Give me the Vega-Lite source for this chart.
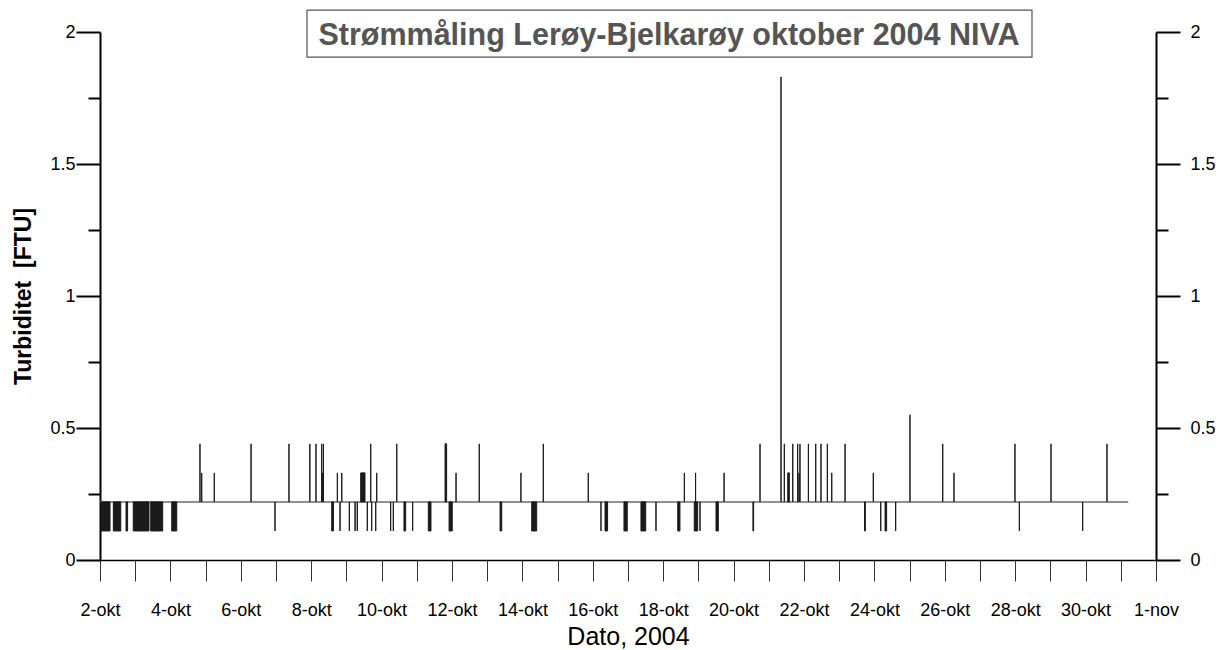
{
  "$schema": "https://vega.github.io/schema/vega-lite/v6.json",
  "width": 1056,
  "height": 528,
  "autosize": {"type": "none"},
  "padding": {"left": 100, "top": 32, "right": 65, "bottom": 90},
  "background": "white",
  "title": {
    "text": "Strømmåling Lerøy-Bjelkarøy oktober 2004 NIVA",
    "font": "Liberation Sans",
    "fontSize": 30.5,
    "fontWeight": "bold",
    "color": "#555555",
    "anchor": "middle",
    "dx": 41,
    "dy": 42,
    "offset": 0
  },
  "config": {
    "view": {"stroke": null},
    "axis": {
      "labelFont": "Liberation Sans",
      "titleFont": "Liberation Sans",
      "labelColor": "black",
      "titleColor": "black",
      "grid": false
    }
  },
  "datasets": {
    "baseline": [
      {"start": "2004-10-02T00:00", "end": "2004-10-31T05:05", "level": 0.22}
    ],
    "spikes": [
      {"start": "2004-10-02T00:40", "end": "2004-10-02T06:50", "value": 0.11},
      {"start": "2004-10-02T09:05", "end": "2004-10-02T14:10", "value": 0.11},
      {"start": "2004-10-02T17:45", "end": "2004-10-02T18:50", "value": 0.11},
      {"start": "2004-10-02T22:40", "end": "2004-10-03T09:25", "value": 0.11},
      {"start": "2004-10-03T10:35", "end": "2004-10-03T18:45", "value": 0.11},
      {"start": "2004-10-04T00:55", "end": "2004-10-04T04:20", "value": 0.11},
      {"start": "2004-10-04T20:10", "end": "2004-10-04T20:10", "value": 0.44},
      {"start": "2004-10-04T21:20", "end": "2004-10-04T21:20", "value": 0.33},
      {"start": "2004-10-05T05:55", "end": "2004-10-05T05:55", "value": 0.33},
      {"start": "2004-10-06T07:00", "end": "2004-10-06T07:00", "value": 0.44},
      {"start": "2004-10-06T23:20", "end": "2004-10-06T23:20", "value": 0.11},
      {"start": "2004-10-07T08:50", "end": "2004-10-07T08:50", "value": 0.44},
      {"start": "2004-10-07T23:05", "end": "2004-10-07T23:05", "value": 0.44},
      {"start": "2004-10-08T03:15", "end": "2004-10-08T03:15", "value": 0.44},
      {"start": "2004-10-08T07:10", "end": "2004-10-08T07:10", "value": 0.44},
      {"start": "2004-10-08T07:50", "end": "2004-10-08T07:50", "value": 0.33},
      {"start": "2004-10-08T08:20", "end": "2004-10-08T08:20", "value": 0.44},
      {"start": "2004-10-08T14:00", "end": "2004-10-08T15:10", "value": 0.11},
      {"start": "2004-10-08T17:50", "end": "2004-10-08T17:50", "value": 0.33},
      {"start": "2004-10-08T19:40", "end": "2004-10-08T19:40", "value": 0.11},
      {"start": "2004-10-08T20:50", "end": "2004-10-08T20:50", "value": 0.33},
      {"start": "2004-10-09T02:00", "end": "2004-10-09T02:00", "value": 0.11},
      {"start": "2004-10-09T05:55", "end": "2004-10-09T05:55", "value": 0.11},
      {"start": "2004-10-09T07:25", "end": "2004-10-09T07:25", "value": 0.11},
      {"start": "2004-10-09T09:45", "end": "2004-10-09T12:40", "value": 0.33},
      {"start": "2004-10-09T14:15", "end": "2004-10-09T14:15", "value": 0.11},
      {"start": "2004-10-09T16:35", "end": "2004-10-09T16:35", "value": 0.44},
      {"start": "2004-10-09T17:15", "end": "2004-10-09T17:15", "value": 0.11},
      {"start": "2004-10-09T20:00", "end": "2004-10-09T20:00", "value": 0.11},
      {"start": "2004-10-09T20:40", "end": "2004-10-09T20:40", "value": 0.33},
      {"start": "2004-10-10T06:10", "end": "2004-10-10T06:10", "value": 0.11},
      {"start": "2004-10-10T08:00", "end": "2004-10-10T08:00", "value": 0.11},
      {"start": "2004-10-10T10:20", "end": "2004-10-10T10:20", "value": 0.44},
      {"start": "2004-10-10T15:15", "end": "2004-10-10T16:25", "value": 0.11},
      {"start": "2004-10-10T21:10", "end": "2004-10-10T21:10", "value": 0.11},
      {"start": "2004-10-11T07:50", "end": "2004-10-11T09:40", "value": 0.11},
      {"start": "2004-10-11T19:15", "end": "2004-10-11T20:20", "value": 0.44},
      {"start": "2004-10-11T22:00", "end": "2004-10-12T00:10", "value": 0.11},
      {"start": "2004-10-12T02:45", "end": "2004-10-12T02:45", "value": 0.33},
      {"start": "2004-10-12T18:35", "end": "2004-10-12T18:35", "value": 0.44},
      {"start": "2004-10-13T08:45", "end": "2004-10-13T09:55", "value": 0.11},
      {"start": "2004-10-13T23:00", "end": "2004-10-13T23:00", "value": 0.33},
      {"start": "2004-10-14T06:20", "end": "2004-10-14T09:45", "value": 0.11},
      {"start": "2004-10-14T14:15", "end": "2004-10-14T14:15", "value": 0.44},
      {"start": "2004-10-15T20:55", "end": "2004-10-15T20:55", "value": 0.33},
      {"start": "2004-10-16T05:35", "end": "2004-10-16T05:35", "value": 0.11},
      {"start": "2004-10-16T08:20", "end": "2004-10-16T10:05", "value": 0.11},
      {"start": "2004-10-16T21:15", "end": "2004-10-16T23:30", "value": 0.11},
      {"start": "2004-10-17T08:50", "end": "2004-10-17T12:05", "value": 0.11},
      {"start": "2004-10-17T19:05", "end": "2004-10-17T19:05", "value": 0.11},
      {"start": "2004-10-18T09:55", "end": "2004-10-18T11:25", "value": 0.11},
      {"start": "2004-10-18T14:25", "end": "2004-10-18T14:25", "value": 0.33},
      {"start": "2004-10-18T21:10", "end": "2004-10-18T23:30", "value": 0.11},
      {"start": "2004-10-18T22:05", "end": "2004-10-18T22:05", "value": 0.33},
      {"start": "2004-10-19T01:05", "end": "2004-10-19T01:05", "value": 0.11},
      {"start": "2004-10-19T12:00", "end": "2004-10-19T13:35", "value": 0.11},
      {"start": "2004-10-19T17:30", "end": "2004-10-19T17:30", "value": 0.33},
      {"start": "2004-10-20T13:10", "end": "2004-10-20T13:40", "value": 0.11},
      {"start": "2004-10-20T18:00", "end": "2004-10-20T18:00", "value": 0.44},
      {"start": "2004-10-21T08:20", "end": "2004-10-21T08:20", "value": 1.83},
      {"start": "2004-10-21T10:35", "end": "2004-10-21T10:35", "value": 0.44},
      {"start": "2004-10-21T12:55", "end": "2004-10-21T14:00", "value": 0.33},
      {"start": "2004-10-21T16:20", "end": "2004-10-21T16:20", "value": 0.44},
      {"start": "2004-10-21T19:40", "end": "2004-10-21T19:40", "value": 0.44},
      {"start": "2004-10-21T20:35", "end": "2004-10-21T20:35", "value": 0.33},
      {"start": "2004-10-21T21:15", "end": "2004-10-21T21:15", "value": 0.44},
      {"start": "2004-10-22T03:00", "end": "2004-10-22T03:00", "value": 0.44},
      {"start": "2004-10-22T08:00", "end": "2004-10-22T08:00", "value": 0.44},
      {"start": "2004-10-22T11:35", "end": "2004-10-22T11:35", "value": 0.44},
      {"start": "2004-10-22T15:55", "end": "2004-10-22T15:55", "value": 0.44},
      {"start": "2004-10-22T18:55", "end": "2004-10-22T18:55", "value": 0.33},
      {"start": "2004-10-23T04:00", "end": "2004-10-23T04:00", "value": 0.44},
      {"start": "2004-10-23T17:15", "end": "2004-10-23T17:50", "value": 0.11},
      {"start": "2004-10-23T23:15", "end": "2004-10-23T23:15", "value": 0.33},
      {"start": "2004-10-24T04:20", "end": "2004-10-24T04:20", "value": 0.11},
      {"start": "2004-10-24T07:15", "end": "2004-10-24T08:20", "value": 0.11},
      {"start": "2004-10-24T14:30", "end": "2004-10-24T14:30", "value": 0.11},
      {"start": "2004-10-25T00:15", "end": "2004-10-25T00:15", "value": 0.55},
      {"start": "2004-10-25T22:35", "end": "2004-10-25T22:35", "value": 0.44},
      {"start": "2004-10-26T06:15", "end": "2004-10-26T06:15", "value": 0.33},
      {"start": "2004-10-27T23:50", "end": "2004-10-27T23:50", "value": 0.44},
      {"start": "2004-10-28T02:50", "end": "2004-10-28T02:50", "value": 0.11},
      {"start": "2004-10-29T00:25", "end": "2004-10-29T00:25", "value": 0.44},
      {"start": "2004-10-29T22:00", "end": "2004-10-29T22:00", "value": 0.11},
      {"start": "2004-10-30T14:35", "end": "2004-10-30T14:35", "value": 0.44}
    ]
  },
  "resolve": {"axis": {"y": "independent"}},
  "layer": [
    {
      "data": {"name": "baseline"},
      "mark": {"type": "rule", "color": "#6b6b6b", "strokeWidth": 1.5},
      "encoding": {
        "x": {
          "field": "start",
          "type": "temporal",
          "title": "Dato, 2004",
          "scale": {"domain": [{"year": 2004, "month": 10, "date": 2}, {"year": 2004, "month": 11, "date": 1}]},
          "axis": {
            "tickCount": {"interval": "day", "step": 1},
            "labelExpr": "month(datum.value) == 9 ? (date(datum.value) % 2 == 0 ? date(datum.value) + '-okt' : '') : date(datum.value) + '-nov'",
            "labelOverlap": false,
            "labelFlush": false,
            "labelFontSize": 18,
            "labelPadding": 20,
            "tickSize": 21,
            "tickColor": "#333333",
            "tickWidth": 1,
            "domainColor": "black",
            "domainWidth": 1.5,
            "titleFontSize": 25,
            "titleFontWeight": "normal",
            "titlePadding": 5
          }
        },
        "x2": {"field": "end"},
        "y": {
          "field": "level",
          "type": "quantitative",
          "title": "Turbiditet \u00a0[FTU]",
          "scale": {"domain": [0, 2], "nice": false, "zero": false},
          "axis": {
            "orient": "left",
            "values": [0, 0.25, 0.5, 0.75, 1, 1.25, 1.5, 1.75, 2],
            "labelExpr": "(datum.value * 4) % 2 == 0 ? format(datum.value, '~g') : ''",
            "tickSize": {"condition": {"test": "(datum.value * 4) % 2 != 0", "value": 12}, "value": 24},
            "tickColor": "black",
            "tickWidth": 2,
            "domainColor": "black",
            "domainWidth": 2,
            "labelFontSize": 18,
            "labelPadding": 1,
            "titleFontSize": 23,
            "titleFontWeight": "bold",
            "titlePadding": 14
          }
        }
      }
    },
    {
      "data": {"name": "spikes"},
      "mark": {"type": "rect", "color": "#1a1a1a", "stroke": "#1a1a1a", "strokeWidth": 1},
      "encoding": {
        "x": {"field": "start", "type": "temporal", "title": "Dato, 2004"},
        "x2": {"field": "end"},
        "y": {
          "field": "value",
          "type": "quantitative",
          "title": null,
          "scale": {"domain": [0, 2], "nice": false, "zero": false},
          "axis": {
            "orient": "right",
            "values": [0, 0.25, 0.5, 0.75, 1, 1.25, 1.5, 1.75, 2],
            "labelExpr": "(datum.value * 4) % 2 == 0 ? format(datum.value, '~g') : ''",
            "tickSize": {"condition": {"test": "(datum.value * 4) % 2 != 0", "value": 12}, "value": 24},
            "tickColor": "black",
            "tickWidth": 2,
            "domainColor": "black",
            "domainWidth": 2,
            "labelFontSize": 18,
            "labelPadding": 10
          }
        },
        "y2": {"datum": 0.22}
      }
    },
    {
      "data": {"values": [{"element": "title frame"}]},
      "mark": {"type": "rect", "fill": "white", "fillOpacity": 0, "stroke": "#555555", "strokeWidth": 1.2, "clip": false},
      "encoding": {
        "x": {"datum": {"year": 2004, "month": 10, "date": 7, "hours": 21, "minutes": 8}, "type": "temporal"},
        "x2": {"datum": {"year": 2004, "month": 10, "date": 28, "hours": 11, "minutes": 27}},
        "y": {"datum": 2.083, "type": "quantitative", "axis": null},
        "y2": {"datum": 1.905}
      }
    }
  ]
}
